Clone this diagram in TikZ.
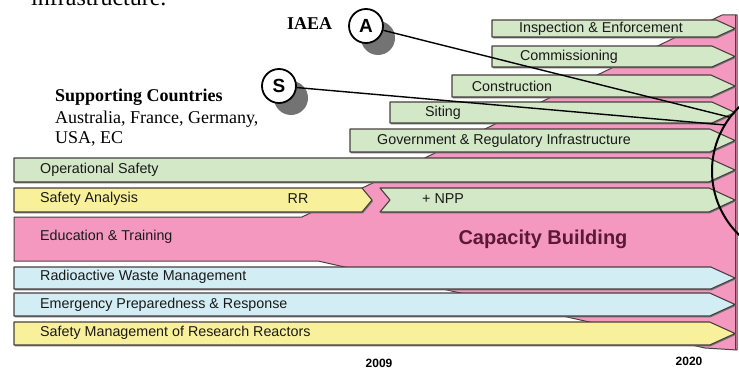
\documentclass[tikz,border=0pt]{standalone}
\usepackage{fontspec}
\setmainfont{Liberation Serif}
\newfontfamily\arialf{Liberation Sans}
\definecolor{barg}{HTML}{D3E8C6}
\definecolor{bary}{HTML}{F8F09A}
\definecolor{barb}{HTML}{D2EEF4}
\definecolor{cbpink}{HTML}{F598C0}
\definecolor{edgec}{HTML}{4A4040}
\definecolor{cbtext}{HTML}{5A1A35}
\tikzset{
  barshape/.style={draw=edgec, line width=1.1pt, line join=round},
  barshadow/.style={fill=black!55, xshift=1pt, yshift=-1.3pt},
  barlbl/.style={font=\arialf\fontsize{14.3}{16}\selectfont, text=black!90, inner sep=0pt},
  serifbig/.style={anchor=base west, inner sep=0pt, font=\fontsize{18}{20}\selectfont},
  letterc/.style={circle, draw=black, line width=1.8pt, fill=white, minimum size=34pt, inner sep=0pt, font=\arialf\bfseries\fontsize{19}{20}\selectfont},
  csh/.style={fill=black!55},
  yearlbl/.style={font=\arialf\bfseries\fontsize{12}{14}\selectfont, inner sep=0pt},
  conn/.style={draw=black, line width=1.4pt}
}
\newcommand\arrowbar[4]{%
  \pgfmathsetmacro\barmid{(#3+#4)/2}%
  \pgfmathsetmacro\barend{735-1.1*(#4-#3)}%
  \fill[barshadow] (#2,#3) -- (\barend,#3) -- (735,\barmid) -- (\barend,#4) -- (#2,#4) -- cycle;
  \draw[barshape, fill=#1] (#2,#3) -- (\barend,#3) -- (735,\barmid) -- (\barend,#4) -- (#2,#4) -- cycle;
}
\begin{document}
\begin{tikzpicture}[x=1pt,y=-1pt]
\clip (0,0) rectangle (739,369);
\fill[white] (0,0) rectangle (739,369);

\node[anchor=base west, inner sep=0pt, font=\fontsize{24}{26}\selectfont] (infra) at (31,6) {infrastructure.};

% capacity building background
\draw[fill=cbpink, draw=edgec, line width=1pt, line join=round]
  (14,217) -- (302,217) -- (722,15) -- (737,15) -- (737,350) -- (705,348) -- (318,261) -- (14,261) -- cycle;
\draw[edgec, line width=1pt] (735,15) -- (735,350);

% bars
\arrowbar{barg}{492}{20}{37}
\arrowbar{barg}{492}{46}{67}
\arrowbar{barg}{452}{75}{97}
\arrowbar{barg}{390}{102}{123}
\arrowbar{barg}{350}{129}{152}
\arrowbar{barg}{14}{158}{182}
% safety analysis row
\fill[barshadow] (14,188) -- (362,188) -- (372,200) -- (362,212) -- (14,212) -- cycle;
\draw[barshape, fill=bary] (14,188) -- (362,188) -- (372,200) -- (362,212) -- (14,212) -- cycle;
\fill[barshadow] (380,188) -- (709,188) -- (735,200) -- (709,212) -- (380,212) -- (390,200) -- cycle;
\draw[barshape, fill=barg] (380,188) -- (709,188) -- (735,200) -- (709,212) -- (380,212) -- (390,200) -- cycle;
\arrowbar{barb}{14}{267}{289}
\arrowbar{barb}{14}{293}{316}
\arrowbar{bary}{14}{322}{345}

% labels
\node[barlbl] (ie) at (601,29) {Inspection \& Enforcement};
\node[barlbl] (com) at (569,57) {Commissioning};
\node[barlbl] (con) at (512,86) {Construction};
\node[barlbl] (sit) at (443,113) {Siting};
\node[barlbl] (gov) at (504,141) {Government \& Regulatory Infrastructure};
\node[barlbl, anchor=west] (ops) at (40,170) {Operational Safety};
\node[barlbl, anchor=west] (sa) at (40,199) {Safety Analysis};
\node[barlbl] (rr) at (298,199) {RR};
\node[barlbl, anchor=west] (npp) at (422,199) {+ NPP};
\node[barlbl, anchor=west] (et) at (40,237) {Education \& Training};
\node[font=\arialf\bfseries\fontsize{20}{22}\selectfont, text=cbtext, inner sep=0pt] (cb) at (543,239) {Capacity Building};
\node[barlbl, anchor=west] (rw) at (40,277) {Radioactive Waste Management};
\node[barlbl, anchor=west] (ep) at (40,305) {Emergency Preparedness \& Response};
\node[barlbl, anchor=west] (sm) at (40,333) {Safety Management of Research Reactors};

\node[yearlbl] (y09) at (379,363) {2009};
\node[yearlbl] (y20) at (689,361) {2020};

% supporting countries
\node[serifbig, font=\bfseries\fontsize{18}{20}\selectfont] (sc1) at (55,102) {Supporting Countries};
\node[serifbig] (sc2) at (55,123) {Australia, France, Germany,};
\node[serifbig] (sc3) at (55,143) {USA, EC};
\node[serifbig, font=\bfseries\fontsize{18}{20}\selectfont] (iaea) at (287,30) {IAEA};

% big circle and connectors
\draw[line width=2pt] (801,171) circle (89);
\coordinate (endA) at (729,117);
\coordinate (endS) at (725,125);
\fill[csh] (378,38) circle (17);
\fill[csh] (291,98) circle (17);
\node[letterc] (A) at (366,26) {A};
\node[letterc] (S) at (279,86) {S};
\draw[conn] (A) -- (endA);
\draw[conn] (S) -- (endS);
\end{tikzpicture}
\end{document}
